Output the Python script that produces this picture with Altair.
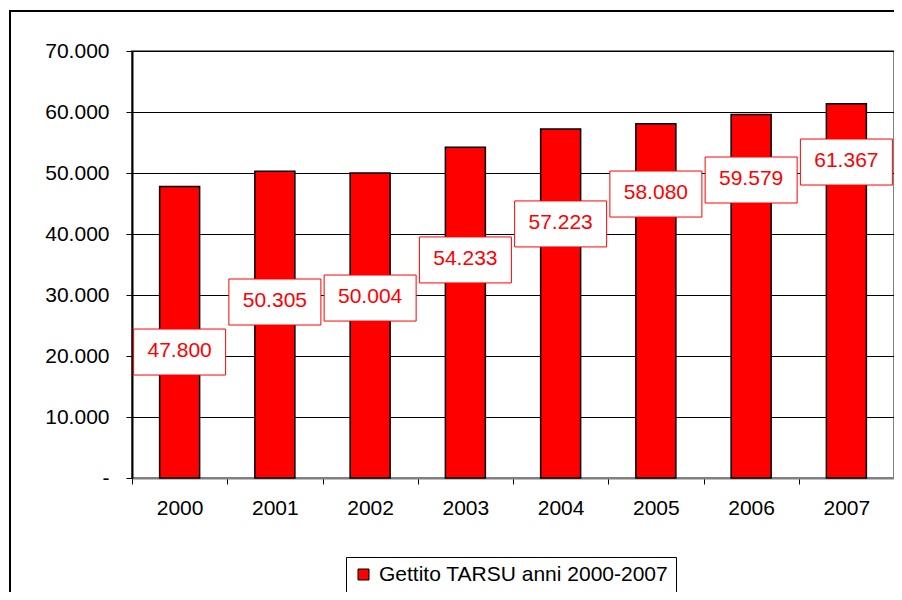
import altair as alt
import pandas as pd

years = ["2000", "2001", "2002", "2003", "2004", "2005", "2006", "2007"]
values = [47800, 50305, 50004, 54233, 57223, 58080, 59579, 61367]
# vertical placement (in value units) of the boxed data labels
label_pos = [20650, 28850, 29500, 35750, 41650, 46550, 48850, 51800]
series_name = "Gettito TARSU anni 2000-2007"
y_ticks = [0, 10000, 20000, 30000, 40000, 50000, 60000, 70000]

df = pd.DataFrame({
    "anno": years,
    "valore": values,
    "pos": label_pos,
    "serie": [series_name] * len(years),
})

FONT = "Liberation Sans"
W, H = 762, 427

x_enc = alt.X(
    "anno:N",
    title=None,
    sort=years,
    scale=alt.Scale(paddingInner=0, paddingOuter=0),
    axis=alt.Axis(
        labelAngle=0, labelFontSize=21, labelFont=FONT, labelColor="black",
        tickSize=6, tickColor="black", tickBand="extent",
        domainColor="#808080", domainWidth=2, labelPadding=13, grid=False,
    ),
)

y_enc = alt.Y(
    "valore:Q",
    title=None,
    scale=alt.Scale(domain=[0, 70000], nice=False),
    axis=alt.Axis(
        values=y_ticks,
        labelExpr="datum.value == 0 ? '-' : replace(format(datum.value, ',d'), ',', '.')",
        labelFontSize=21, labelFont=FONT, labelColor="black", labelPadding=17,
        tickSize=6, tickColor="black", domainColor="black", domainWidth=2,
        grid=True, gridColor="black", gridWidth=1,
    ),
)

bars = alt.Chart(df).mark_bar(size=40, stroke="black", strokeWidth=1.5).encode(
    x=x_enc,
    y=y_enc,
    color=alt.Color(
        "serie:N",
        scale=alt.Scale(domain=[series_name], range=["#ff0000"]),
        legend=alt.Legend(
            title=None, orient="none", legendX=214, legendY=506,
            strokeColor="black", padding=7, symbolType="square",
            symbolSize=121, symbolStrokeColor="black", symbolStrokeWidth=1,
            labelFontSize=21, labelFont=FONT, labelColor="black",
            labelOffset=5, labelLimit=0, fillColor="white",
        ),
    ),
)

boxes = alt.Chart(df).mark_point(
    shape="M-1,-0.5L1,-0.5L1,0.5L-1,0.5Z", size=92 * 92, filled=True,
    fill="white", stroke="#ff0000", strokeWidth=1, opacity=1,
).encode(
    x=alt.X("anno:N", sort=years),
    y=alt.Y("pos:Q"),
)

texts = alt.Chart(df).transform_calculate(
    lab="replace(format(datum.valore, ',d'), ',', '.')"
).mark_text(
    color="#ff0000", fontSize=21, font=FONT, baseline="middle", align="center", dy=-1,
).encode(
    x=alt.X("anno:N", sort=years),
    y=alt.Y("pos:Q"),
    text="lab:N",
)

border = alt.Chart(df).mark_rect(
    fill="white", fillOpacity=0, stroke="black", strokeWidth=1.5,
).encode(
    x=alt.value(-122), x2=alt.value(W + 40), y=alt.value(-40), y2=alt.value(H + 200),
)

chart = alt.layer(bars, boxes, texts, border).properties(
    width=W, height=H,
    autosize=alt.AutoSizeParams(type="none"),
    padding={"left": 124, "top": 43, "right": 0, "bottom": 114},
    background="white",
).configure_view(
    stroke="#808080", strokeWidth=2,
)

chart.save("out.html", embed_options={"renderer": "svg", "actions": False})
